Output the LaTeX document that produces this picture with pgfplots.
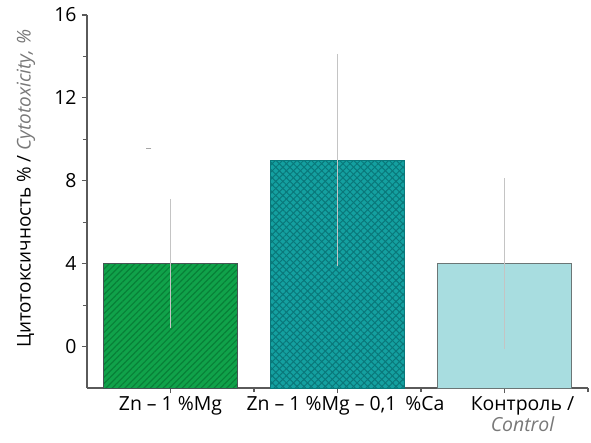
\documentclass[border=0pt]{standalone}
\usepackage{fontspec}
\setmainfont{Open Sans}
\usepackage{pgfplots}
\pgfplotsset{compat=1.18}
\usetikzlibrary{patterns.meta}

\definecolor{zngreen}{RGB}{16,162,74}
\definecolor{zngreendark}{RGB}{8,128,56}
\definecolor{znteal}{RGB}{20,160,160}
\definecolor{zntealdark}{RGB}{10,120,122}
\definecolor{ctrlblue}{RGB}{168,221,224}
\definecolor{baredge}{RGB}{70,84,84}
\definecolor{axisgray}{RGB}{90,90,90}
\definecolor{errgray}{RGB}{196,196,196}
\definecolor{labelgray}{RGB}{120,120,120}

\begin{document}
\begin{tikzpicture}
\useasboundingbox (-87bp,-55bp) rectangle (504bp,388bp);
\begin{axis}[
  scale only axis,
  width=501bp, height=373bp,
  xmin=-0.5, xmax=2.5, ymin=-2, ymax=16,
  axis lines=left,
  axis line style={-, draw=axisgray, line width=1.3bp},
  clip=false,
  xtick={0,1},
  xticklabels={{Zn – 1 \%Mg},{\hspace*{16bp}Zn – 1 \%Mg – 0{,}1\hspace{0.45em}\%Ca}},
  extra x ticks={2},
  extra x tick labels={{Контроль /\\\textcolor{labelgray}{\itshape Control}}},
  extra x tick style={xticklabel style={xshift=18bp}},
  minor xtick={0.5,1.5,2.5},
  ytick={0,4,8,12,16},
  minor ytick={2,6,10,14},
  tick align=outside,
  major tick length=5bp, minor tick length=4bp,
  tick style={draw=axisgray, line width=1.2bp},
  ticklabel style={font=\fontsize{19.5}{21.5}\selectfont},
  xticklabel style={align=center},
  yticklabel style={xshift=-2bp},
  /pgf/number format/assume math mode=true,
  ylabel={Цитотоксичность \% / \textcolor{labelgray}{\itshape Cytotoxicity, \%}},
  ylabel style={font=\fontsize{19}{21}\selectfont, at={(axis description cs:-0.122,0.534)}, anchor=center},
]

% bars drawn from the bottom of the axis (y = -2)
\addplot[fill=zngreen, draw=baredge, line width=0.8bp,
  postaction={pattern={Lines[angle=45,distance=4.5bp,line width=1.2bp]}, pattern color=zngreendark}]
  coordinates {(-0.4,-2) (-0.4,4) (0.4,4) (0.4,-2)} -- cycle;

\addplot[fill=znteal, draw=zntealdark, line width=0.8bp,
  postaction={pattern={Lines[angle=45,distance=5bp,line width=1bp]}, pattern color=zntealdark},
  postaction={pattern={Lines[angle=-45,distance=5bp,line width=1bp]}, pattern color=zntealdark}]
  coordinates {(0.6,-2) (0.6,9) (1.4,9) (1.4,-2)} -- cycle;

\addplot[fill=ctrlblue, draw=baredge!80, line width=0.9bp]
  coordinates {(1.6,-2) (1.6,4) (2.4,4) (2.4,-2)} -- cycle;

% standard deviations
\addplot[draw=none, mark=none,
  error bars/.cd, y dir=both, y explicit,
  error bar style={draw=errgray, line width=1.4bp},
  error mark=-, error mark options={draw=errgray, mark size=2.5bp, line width=1bp}]
  coordinates {(0,4) +- (0,3) (1,9) +- (0,5) (2,4) +- (0,4)};

\addplot[only marks, mark=-, mark size=2.5bp, mark options={draw=gray!70, line width=1bp}]
  coordinates {(-0.13,9.55)};
\end{axis}
\end{tikzpicture}
\end{document}
